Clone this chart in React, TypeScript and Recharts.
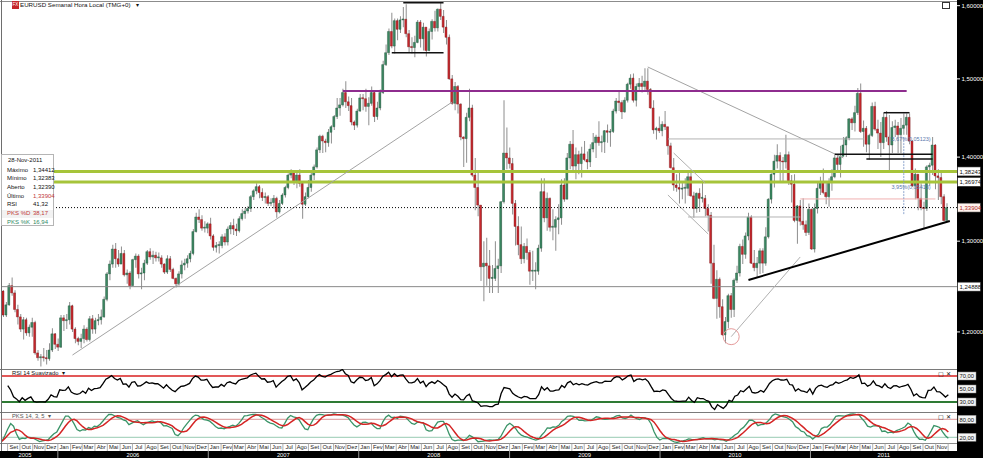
import React from 'react';
import { ComposedChart, Bar, Cell, Line, XAxis, YAxis, ReferenceLine, ReferenceDot } from 'recharts';

// ---------- DATA (weekly EUR/USD, week starting Monday 15-Aug-2005) ----------
const FIRST_WEEK_UTC = Date.UTC(2005, 7, 15);
const FIRST_OPEN = 1.2440;

const CLOSE = [
  // 2005
  1.2180, 1.2290, 1.2500, 1.2420, 1.2240, 1.2160, 1.2030, 1.2130, 1.1990, 1.2050, 1.2100, 1.1780, 1.1730, 1.1740, 1.1730, 1.1720, 1.1810, 1.1980, 1.1870, 1.1840,
  // 2006
  1.2150, 1.2120, 1.2130, 1.2280, 1.2030, 1.1930, 1.1900, 1.1930, 1.2030, 1.1920, 1.2140, 1.2030, 1.2120, 1.2130, 1.2160, 1.2350, 1.2630, 1.2740, 1.2910, 1.2800,
  1.2740, 1.2860, 1.2620, 1.2640, 1.2500, 1.2790, 1.2830, 1.2630, 1.2640, 1.2750, 1.2880, 1.2820, 1.2840, 1.2810, 1.2810, 1.2740, 1.2650, 1.2800, 1.2680, 1.2580,
  1.2520, 1.2630, 1.2730, 1.2750, 1.2800, 1.2860, 1.3110, 1.3280, 1.3250, 1.3150, 1.3150, 1.3200,
  // 2007
  1.3060, 1.2930, 1.2950, 1.2950, 1.3050, 1.2990, 1.3140, 1.3180, 1.3140, 1.3120, 1.3260, 1.3320, 1.3350, 1.3380, 1.3520, 1.3590, 1.3640, 1.3570, 1.3510, 1.3520,
  1.3440, 1.3450, 1.3500, 1.3340, 1.3440, 1.3540, 1.3630, 1.3780, 1.3820, 1.3700, 1.3780, 1.3680, 1.3430, 1.3520, 1.3630, 1.3780, 1.3880, 1.4090, 1.4260, 1.4200,
  1.4180, 1.4310, 1.4380, 1.4510, 1.4620, 1.4660, 1.4820, 1.4700, 1.4650, 1.4440, 1.4400, 1.4580, 1.4750,
  // 2008
  1.4740, 1.4640, 1.4680, 1.4820, 1.4510, 1.4620, 1.4820, 1.5190, 1.5350, 1.5640, 1.5440, 1.5790, 1.5670, 1.5800, 1.5810, 1.5610, 1.5430, 1.5420, 1.5490, 1.5770,
  1.5540, 1.5700, 1.5380, 1.5640, 1.5780, 1.5690, 1.5950, 1.5850, 1.5700, 1.5560, 1.5000, 1.4680, 1.4900, 1.4670, 1.4250, 1.4230, 1.4500, 1.4620, 1.3780, 1.3630,
  1.3420, 1.2710, 1.2750, 1.2720, 1.2580, 1.2580, 1.2690, 1.2720, 1.3460, 1.4050, 1.3990, 1.3920,
  // 2009
  1.3440, 1.3170, 1.2960, 1.2800, 1.2940, 1.2870, 1.2660, 1.2660, 1.2660, 1.2920, 1.3580, 1.3270, 1.3500, 1.3160, 1.3160, 1.3250, 1.3270, 1.3660, 1.3490, 1.3990,
  1.4160, 1.3890, 1.4030, 1.3920, 1.4040, 1.3970, 1.3940, 1.4100, 1.4180, 1.4250, 1.4180, 1.4190, 1.4330, 1.4310, 1.4320, 1.4580, 1.4710, 1.4690, 1.4570, 1.4720,
  1.4930, 1.5010, 1.4720, 1.4900, 1.4940, 1.4900, 1.4970, 1.4860, 1.4620, 1.4340, 1.4360, 1.4330,
  // 2010
  1.4410, 1.4380, 1.4140, 1.3870, 1.3660, 1.3630, 1.3610, 1.3620, 1.3620, 1.3760, 1.3530, 1.3380, 1.3560, 1.3500, 1.3500, 1.3380, 1.3300, 1.2750, 1.2360, 1.2570,
  1.2270, 1.1970, 1.2110, 1.2390, 1.2240, 1.2560, 1.2640, 1.2940, 1.2850, 1.3060, 1.3280, 1.2750, 1.2700, 1.2750, 1.2890, 1.2750, 1.3050, 1.3490, 1.3790, 1.3950,
  1.4020, 1.3950, 1.3940, 1.4030, 1.3710, 1.3670, 1.3240, 1.3410, 1.3230, 1.3190, 1.3100, 1.3370,
  // 2011
  1.2910, 1.3380, 1.3620, 1.3690, 1.3570, 1.3520, 1.3700, 1.3760, 1.3990, 1.3910, 1.4010, 1.4150, 1.4240, 1.4480, 1.4430, 1.4560, 1.4810, 1.4320, 1.4360, 1.4160,
  1.4270, 1.4640, 1.4350, 1.4300, 1.4180, 1.4500, 1.4250, 1.4150, 1.4370, 1.4390, 1.4280, 1.4360, 1.4400, 1.4500, 1.4200, 1.3650, 1.3790, 1.3500, 1.3390, 1.3380,
  1.3880, 1.3900, 1.4150, 1.3770, 1.3750, 1.3520, 1.3239, 1.33904,
];

const HIGH = [
  1.2450, 1.2320, 1.2530, 1.2590, 1.2450, 1.2290, 1.2190, 1.2160, 1.2150, 1.2080, 1.2150, 1.2120, 1.1810, 1.1770, 1.1830, 1.1810, 1.1880, 1.2040, 1.1990, 1.1930,
  1.2180, 1.2180, 1.2190, 1.2320, 1.2290, 1.2050, 1.1950, 1.1980, 1.2070, 1.2050, 1.2170, 1.2180, 1.2150, 1.2190, 1.2240, 1.2380, 1.2650, 1.2780, 1.2960, 1.2980,
  1.2900, 1.2940, 1.2900, 1.2680, 1.2660, 1.2800, 1.2860, 1.2850, 1.2700, 1.2790, 1.2900, 1.2920, 1.2890, 1.2880, 1.2870, 1.2840, 1.2750, 1.2840, 1.2830, 1.2700,
  1.2590, 1.2660, 1.2780, 1.2800, 1.2840, 1.2890, 1.3140, 1.3330, 1.3370, 1.3300, 1.3230, 1.3220,
  1.3270, 1.3080, 1.2990, 1.3000, 1.3080, 1.3090, 1.3170, 1.3220, 1.3260, 1.3200, 1.3290, 1.3370, 1.3390, 1.3410, 1.3540, 1.3610, 1.3680, 1.3660, 1.3620, 1.3570,
  1.3540, 1.3500, 1.3540, 1.3520, 1.3480, 1.3560, 1.3650, 1.3800, 1.3850, 1.3830, 1.3810, 1.3850, 1.3700, 1.3570, 1.3720, 1.3820, 1.3910, 1.4120, 1.4280, 1.4280,
  1.4230, 1.4350, 1.4400, 1.4530, 1.4750, 1.4750, 1.4870, 1.4970, 1.4770, 1.4750, 1.4460, 1.4610, 1.4800,
  1.4800, 1.4870, 1.4760, 1.4900, 1.4830, 1.4700, 1.4860, 1.5240, 1.5460, 1.5680, 1.5900, 1.5820, 1.5820, 1.5850, 1.5980, 1.6020, 1.5660, 1.5560, 1.5580, 1.5800,
  1.5800, 1.5760, 1.5700, 1.5680, 1.5810, 1.5930, 1.5960, 1.6040, 1.5940, 1.5800, 1.5600, 1.5050, 1.4960, 1.4920, 1.4680, 1.4260, 1.4560, 1.4870, 1.4660, 1.3990,
  1.3810, 1.3420, 1.3000, 1.3040, 1.2900, 1.2730, 1.3000, 1.2800, 1.3470, 1.4720, 1.4370, 1.4120,
  1.3990, 1.3480, 1.3290, 1.3170, 1.2980, 1.3030, 1.2900, 1.2890, 1.2760, 1.2960, 1.3740, 1.3740, 1.3570, 1.3510, 1.3370, 1.3290, 1.3430, 1.3730, 1.3740, 1.4050,
  1.4200, 1.4340, 1.4120, 1.4080, 1.4130, 1.4200, 1.4070, 1.4160, 1.4300, 1.4280, 1.4450, 1.4270, 1.4340, 1.4410, 1.4350, 1.4610, 1.4750, 1.4840, 1.4720, 1.4760,
  1.4950, 1.5060, 1.5070, 1.4940, 1.5010, 1.5040, 1.5140, 1.5140, 1.4880, 1.4720, 1.4380, 1.4510,
  1.4450, 1.4580, 1.4380, 1.4180, 1.3990, 1.3790, 1.3820, 1.3690, 1.3740, 1.3820, 1.3830, 1.3580, 1.3570, 1.3620, 1.3690, 1.3540, 1.3430, 1.3340, 1.2960, 1.2670,
  1.2590, 1.2350, 1.2160, 1.2410, 1.2420, 1.2580, 1.2720, 1.2970, 1.3020, 1.3100, 1.3330, 1.3300, 1.2900, 1.2820, 1.2920, 1.2920, 1.3160, 1.3500, 1.3800, 1.4030,
  1.4160, 1.4060, 1.4000, 1.4280, 1.4070, 1.3780, 1.3790, 1.3420, 1.3480, 1.3500, 1.3240, 1.3440,
  1.3380, 1.3440, 1.3690, 1.3760, 1.3860, 1.3700, 1.3740, 1.3850, 1.4030, 1.4040, 1.4140, 1.4250, 1.4260, 1.4490, 1.4500, 1.4650, 1.4880, 1.4940, 1.4460, 1.4390,
  1.4290, 1.4690, 1.4700, 1.4470, 1.4440, 1.4560, 1.4580, 1.4280, 1.4450, 1.4470, 1.4440, 1.4490, 1.4550, 1.4550, 1.4550, 1.4210, 1.3860, 1.3790, 1.3680, 1.3460,
  1.3900, 1.3930, 1.4250, 1.4160, 1.3850, 1.3820, 1.3550, 1.34412,
];

const LOW = [
  1.2160, 1.2160, 1.2280, 1.2390, 1.2210, 1.2080, 1.2000, 1.1920, 1.1960, 1.1950, 1.1950, 1.1760, 1.1700, 1.1640, 1.1690, 1.1660, 1.1700, 1.1790, 1.1820, 1.1800,
  1.1830, 1.2010, 1.2030, 1.2080, 1.2000, 1.1880, 1.1860, 1.1830, 1.1880, 1.1900, 1.1900, 1.1980, 1.1980, 1.2070, 1.2080, 1.2150, 1.2330, 1.2560, 1.2700, 1.2700,
  1.2710, 1.2740, 1.2600, 1.2520, 1.2460, 1.2500, 1.2700, 1.2580, 1.2460, 1.2560, 1.2730, 1.2790, 1.2740, 1.2770, 1.2770, 1.2700, 1.2630, 1.2630, 1.2650, 1.2570,
  1.2480, 1.2500, 1.2580, 1.2670, 1.2700, 1.2760, 1.2840, 1.3100, 1.3210, 1.3120, 1.3100, 1.3090,
  1.3020, 1.2890, 1.2870, 1.2860, 1.2920, 1.2950, 1.2950, 1.3080, 1.3070, 1.3060, 1.3100, 1.3240, 1.3260, 1.3320, 1.3340, 1.3480, 1.3550, 1.3500, 1.3470, 1.3440,
  1.3410, 1.3410, 1.3380, 1.3270, 1.3320, 1.3420, 1.3510, 1.3610, 1.3740, 1.3660, 1.3620, 1.3640, 1.3260, 1.3410, 1.3500, 1.3580, 1.3720, 1.3860, 1.4050, 1.4050,
  1.4060, 1.4130, 1.4170, 1.4340, 1.4480, 1.4520, 1.4640, 1.4620, 1.4580, 1.4400, 1.4340, 1.4370, 1.4570,
  1.4590, 1.4570, 1.4400, 1.4650, 1.4440, 1.4470, 1.4590, 1.4800, 1.5170, 1.5320, 1.5410, 1.5340, 1.5520, 1.5620, 1.5700, 1.5560, 1.5360, 1.5340, 1.5290, 1.5480,
  1.5420, 1.5380, 1.5300, 1.5370, 1.5530, 1.5640, 1.5640, 1.5800, 1.5620, 1.5460, 1.4990, 1.4660, 1.4590, 1.4550, 1.4210, 1.3880, 1.3930, 1.4450, 1.3760, 1.3360,
  1.3290, 1.2550, 1.2330, 1.2500, 1.2420, 1.2420, 1.2550, 1.2420, 1.2640, 1.3440, 1.3850, 1.3860,
  1.3310, 1.2950, 1.2840, 1.2740, 1.2750, 1.2790, 1.2510, 1.2550, 1.2460, 1.2620, 1.2880, 1.3220, 1.3120, 1.3110, 1.3010, 1.2890, 1.3080, 1.3190, 1.3460, 1.3490,
  1.3850, 1.3840, 1.3730, 1.3790, 1.3750, 1.3950, 1.3850, 1.3880, 1.4060, 1.3990, 1.4140, 1.4060, 1.4050, 1.4180, 1.4130, 1.4300, 1.4550, 1.4580, 1.4480, 1.4560,
  1.4690, 1.4870, 1.4690, 1.4640, 1.4830, 1.4820, 1.4830, 1.4790, 1.4610, 1.4290, 1.4220, 1.4300,
  1.4260, 1.4340, 1.4030, 1.3860, 1.3590, 1.3580, 1.3440, 1.3490, 1.3440, 1.3530, 1.3520, 1.3270, 1.3330, 1.3340, 1.3450, 1.3290, 1.3110, 1.2520, 1.2350, 1.2140,
  1.2150, 1.1960, 1.1880, 1.2040, 1.2150, 1.2160, 1.2530, 1.2600, 1.2740, 1.2800, 1.3010, 1.2740, 1.2660, 1.2590, 1.2630, 1.2640, 1.2720, 1.3030, 1.3440, 1.3630,
  1.3860, 1.3700, 1.3690, 1.3860, 1.3660, 1.3450, 1.3220, 1.2970, 1.3180, 1.3130, 1.3060, 1.3070,
  1.2900, 1.2870, 1.3320, 1.3540, 1.3550, 1.3430, 1.3400, 1.3590, 1.3740, 1.3830, 1.3750, 1.4010, 1.4000, 1.4210, 1.4340, 1.4320, 1.4530, 1.4300, 1.4130, 1.4060,
  1.3970, 1.4250, 1.4330, 1.4100, 1.4000, 1.4100, 1.4190, 1.3840, 1.4050, 1.4250, 1.4050, 1.4050, 1.4280, 1.4280, 1.4160, 1.3640, 1.3490, 1.3360, 1.3360, 1.3150,
  1.3350, 1.3650, 1.3780, 1.3610, 1.3480, 1.3430, 1.3230, 1.32383,
];

const EMPTY_SLOTS = 3;
const MONTHS = ['Jan', 'Fev', 'Mar', 'Abr', 'Mai', 'Jun', 'Jul', 'Ago', 'Set', 'Out', 'Nov', 'Dez'];
const PRICE_TICKS = [1.2, 1.3, 1.4, 1.5, 1.6];
const RSI_TICKS = [30, 50, 70];
const STOCH_TICKS = [20, 80];
const LEVEL_A = 1.38243;
const LEVEL_B = 1.36974;
const LAST_PRICE = 1.33904;
const SUPPORT = 1.24888;
const INFO_ROWS = [
  ['Máximo', '1,34412'],
  ['Mínimo', '1,32383'],
  ['Aberto', '1,32390'],
  ['Último', '1,33904'],
  ['RSI', '41,32'],
  ['PKS %D', '38,17'],
  ['PKS %K', '16,94'],
];
const INFO_DATE = '28-Nov-2011';
const NOTE_A = '3,67%(0,05123)';
const NOTE_B = '3,95%(0,05413)';

// annotation drawings (week index, price)
const SEGMENTS = [
  { a: [24, 1.1758], b: [156, 1.4697], c: '#a3a3a3', w: 1, dash: '' },
  { a: [224, 1.5158], b: [292, 1.3990], c: '#a3a3a3', w: 1, dash: '' },
  { a: [231, 1.4226], b: [299, 1.4226], c: '#b3b3b3', w: 1, dash: '' },
  { a: [238, 1.3280], b: [277, 1.3280], c: '#b3b3b3', w: 1, dash: '' },
  { a: [277, 1.3493], b: [324, 1.3493], c: '#f0b0b0', w: 1, dash: '' },
  { a: [233, 1.4051], b: [244, 1.3684], c: '#b0b0b0', w: 1, dash: '' },
  { a: [231, 1.3540], b: [245, 1.3082], c: '#b0b0b0', w: 1, dash: '' },
  { a: [253, 1.1950], b: [277, 1.2820], c: '#b0b0b0', w: 1, dash: '' },
  { a: [308, 1.4530], b: [308, 1.3842], c: '#a0a0a0', w: 1, dash: '' },
  { a: [313, 1.4249], b: [313, 1.3303], c: '#8fa6cf', w: 1, dash: '2 1' },
  { a: [118, 1.4840], b: [314, 1.4840], c: '#8e2c8e', w: 2, dash: '' },
  { a: [139, 1.6042], b: [153, 1.6042], c: '#111', w: 1.5, dash: '' },
  { a: [135, 1.5350], b: [153, 1.5350], c: '#111', w: 1.5, dash: '' },
  { a: [306, 1.4559], b: [315, 1.4559], c: '#111', w: 1.5, dash: '' },
  { a: [289, 1.4035], b: [323, 1.4035], c: '#111', w: 1.5, dash: '' },
  { a: [300, 1.3977], b: [323, 1.3977], c: '#111', w: 1.5, dash: '' },
  { a: [259, 1.2562], b: [329, 1.3233], c: '#000', w: 2, dash: '' },
];

// ---------- derived rows ----------
const N = CLOSE.length;
const SLOTS = N + EMPTY_SLOTS;

function rsiSeries(cl: number[], prev: number, n: number) {
  const out: (number | null)[] = [];
  let ag = 0, al = 0;
  cl.forEach((c, i) => {
    const p = i === 0 ? prev : cl[i - 1];
    const ch = c - p;
    const m = Math.min(i + 1, n);
    ag = (ag * (m - 1) + Math.max(ch, 0)) / m;
    al = (al * (m - 1) + Math.max(-ch, 0)) / m;
    out.push(i < 2 ? null : al === 0 ? 100 : 100 - 100 / (1 + ag / al));
  });
  return out;
}
function avg(a: number[]) { return a.reduce((s, v) => s + v, 0) / a.length; }
function stochSeries(cl: number[], hi: number[], lo: number[], n: number, slow: number, dp: number) {
  const raw = cl.map((c, i) => {
    const s = Math.max(0, i - n + 1);
    const hh = Math.max(...hi.slice(s, i + 1));
    const ll = Math.min(...lo.slice(s, i + 1));
    return hh === ll ? 50 : ((c - ll) / (hh - ll)) * 100;
  });
  const k = raw.map((_, i) => avg(raw.slice(Math.max(0, i - slow + 1), i + 1)));
  const d = k.map((_, i) => avg(k.slice(Math.max(0, i - dp + 1), i + 1)));
  return { k, d };
}
const RSI = rsiSeries(CLOSE, FIRST_OPEN, 14);
const ST = stochSeries(CLOSE, HIGH, LOW, 14, 3, 5);

const rows = Array.from({ length: SLOTS }, (_, i) => {
  if (i >= N) return { i } as any;
  const o = i === 0 ? FIRST_OPEN : CLOSE[i - 1];
  const c = CLOSE[i];
  return {
    i, o, c,
    wick: [LOW[i], HIGH[i]],
    body: [Math.min(o, c), Math.max(o, c)],
    up: c >= o,
    rsi: RSI[i],
    k: ST.k[i],
    d: ST.d[i],
  };
});

const weekDate = (i: number) => new Date(FIRST_WEEK_UTC + i * 7 * 86400000);
const DAY = 86400000;
const monthTicks: number[] = [];
const monthInfo: Record<number, { frac: number; label: string; last: boolean }> = {};
const yearTicks: number[] = [];
const yearInfo: Record<number, { frac: number; label: string }> = {};
for (let i = 0; i < SLOTS; i++) {
  const d = weekDate(i);
  for (let k = 0; k < 7; k++) {
    const dd = new Date(d.getTime() + k * DAY);
    if (dd.getUTCDate() === 1) {
      monthTicks.push(i);
      monthInfo[i] = { frac: k / 7, label: MONTHS[dd.getUTCMonth()], last: i >= N - 1 };
      if (dd.getUTCMonth() === 0) {
        yearTicks.push(i);
        yearInfo[i] = { frac: k / 7, label: String(dd.getUTCFullYear()) };
      }
    }
  }
}

// ---------- layout ----------
const W = 983;
const RIGHT_AXIS = 26;
const PLOT_L = 2;
const PLOT_W = W - PLOT_L - RIGHT_AXIS;
const BAND = PLOT_W / SLOTS;
const FONT = '"Liberation Sans", Arial, sans-serif';
const UP = '#3c8a63';
const UP_EDGE = '#1f4f38';
const DOWN = '#c8282d';
const DOWN_EDGE = '#7a1417';
const WICK = '#8e8e8e';

const fmt = (v: number, d: number) => v.toFixed(d).replace('.', ',');

const PriceTick = (p: any) => {
  const { x, y, payload } = p;
  return (
    <g>
      <line x1={x} x2={x + 3} y1={y} y2={y} stroke="#fff" strokeWidth={1} />
      <text x={x + 4.5} y={y + 2.2} fill="#fff" fontSize={6} fontFamily={FONT}>{fmt(payload.value, 5)}</text>
    </g>
  );
};
const BoxTick = (p: any) => {
  const { x, y, payload } = p;
  return (
    <g>
      <rect x={x + 1} y={y - 4} width={18} height={8} fill="#f4f4f4" stroke="#888" strokeWidth={0.5} />
      <text x={x + 2.5} y={y + 2.2} fill="#111" fontSize={5.8} fontFamily={FONT}>{fmt(payload.value, 2)}</text>
    </g>
  );
};
const boxLabel = (text: string, color: string, bg: string) => (props: any) => {
  const vb = props.viewBox || {};
  const x = (vb.x ?? 0) + (vb.width ?? 0) + 0.5;
  const y = vb.y ?? 0;
  return (
    <g>
      <rect x={x} y={y - 4.5} width={23} height={9} fill={bg} stroke="#222" strokeWidth={0.6} />
      <text x={x + 2} y={y + 2.3} fill={color} fontSize={6} fontFamily={FONT}>{text}</text>
    </g>
  );
};

const MonthTick = (p: any) => {
  const { x, y, payload } = p;
  const info = monthInfo[payload.value];
  if (!info) return <g />;
  const xb = x - BAND / 2 + info.frac * BAND;
  const cell = (30.44 / 7) * BAND;
  return (
    <g>
      <line x1={xb} x2={xb} y1={y} y2={y + 8} stroke="#9a9a9a" strokeWidth={0.8} />
      {!info.last && (
        <text x={xb + cell / 2} y={y + 6.2} textAnchor="middle" fill="#222" fontSize={5.8} fontFamily={FONT}>{info.label}</text>
      )}
    </g>
  );
};
const YearTick = (p: any) => {
  const { x, y, payload } = p;
  const info = yearInfo[payload.value];
  if (!info) return <g />;
  const xb = x - BAND / 2 + info.frac * BAND;
  const yearW = (365.25 / 7) * BAND;
  const isFirst = payload.value === yearTicks[0];
  const prevCenter = (PLOT_L + xb) / 2;
  const isLast = payload.value === yearTicks[yearTicks.length - 1];
  const center = isLast ? (xb + PLOT_L + PLOT_W) / 2 : xb + yearW / 2;
  return (
    <g>
      <line x1={xb} x2={xb} y1={y} y2={y + 7} stroke="#bbb" strokeWidth={0.8} />
      {isFirst && (
        <text x={prevCenter - 5} y={y + 5.6} textAnchor="middle" fill="#fff" fontSize={5.8} fontFamily={FONT}>{String(Number(info.label) - 1)}</text>
      )}
      <text x={center} y={y + 5.6} textAnchor="middle" fill="#fff" fontSize={5.8} fontFamily={FONT}>{info.label}</text>
    </g>
  );
};

const abs = (l: number, t: number, extra: React.CSSProperties = {}): React.CSSProperties => ({ position: 'absolute', left: l, top: t, ...extra });

export default function App() {
  const textStyle: React.CSSProperties = { fontFamily: FONT, fontSize: 6, color: '#111', whiteSpace: 'nowrap', lineHeight: '7px' };
  return (
    <div style={{ position: 'absolute', left: 0, top: 0, width: W, height: 458, background: '#fff', overflow: 'hidden' }}>
      {/* backgrounds */}
      <div style={abs(957, 0, { width: 26, height: 458, background: '#000' })} />
      <div style={abs(0, 451, { width: W, height: 7, background: '#000' })} />
      <div style={abs(0, 443, { width: 957, height: 0, borderTop: '1px solid #8c8c8c' })} />
      <div style={abs(0, 1, { width: 957, height: 0, borderTop: '1px solid #8c8c8c' })} />
      <div style={abs(0, 368.5, { width: 957, height: 0, borderTop: '1px solid #7a7a7a' })} />
      <div style={abs(0, 411.5, { width: 957, height: 0, borderTop: '1px solid #7a7a7a' })} />

      {/* main price chart */}
      <div style={abs(0, 0)}>
        <ComposedChart width={W} height={368} data={rows} margin={{ top: 2, right: 0, bottom: 1, left: PLOT_L }}>
          <XAxis xAxisId="w" dataKey="i" type="category" hide />
          <XAxis xAxisId="b" dataKey="i" type="category" hide />
          <YAxis orientation="right" width={RIGHT_AXIS} scale="log" domain={[1.16346, 1.6052]} allowDataOverflow
            ticks={PRICE_TICKS} tick={PriceTick} tickLine={false} axisLine={false} tickSize={0} tickMargin={0} interval={0} />
          <ReferenceLine xAxisId="w" y={SUPPORT} stroke="#8a8a8a" strokeWidth={1} label={boxLabel('1,24888', '#111', '#fff')} />
          <ReferenceLine xAxisId="w" y={LEVEL_A} stroke="#a6c43a" strokeWidth={3} label={boxLabel('1,38243', '#111', '#fff')} />
          <ReferenceLine xAxisId="w" y={LEVEL_B} stroke="#a6c43a" strokeWidth={3} label={boxLabel('1,36974', '#111', '#fff')} />
          {SEGMENTS.map((s, k) => (
            <ReferenceLine key={k} xAxisId="w" segment={[{ x: s.a[0], y: s.a[1] }, { x: s.b[0], y: s.b[1] }]}
              stroke={s.c} strokeWidth={s.w} strokeDasharray={s.dash || undefined} ifOverflow="visible" />
          ))}
          <ReferenceDot xAxisId="w" x={253} y={1.1950} r={8} fill="none" stroke="#e59a9a" strokeWidth={1} />
          <ReferenceDot xAxisId="w" x={307} y={1.4226} r={0.01} fill="none" stroke="none"
            label={{ value: NOTE_A, position: 'right', fontSize: 5.5, fill: '#5a78ad', fontFamily: FONT }} />
          <ReferenceDot xAxisId="w" x={307} y={1.3640} r={0.01} fill="none" stroke="none"
            label={{ value: NOTE_B, position: 'right', fontSize: 5.5, fill: '#5a78ad', fontFamily: FONT }} />
          <Bar xAxisId="w" dataKey="wick" barSize={1} isAnimationActive={false}>
            {rows.map((r: any, k: number) => <Cell key={k} fill={WICK} />)}
          </Bar>
          <Bar xAxisId="b" dataKey="body" barSize={2} minPointSize={1} isAnimationActive={false}>
            {rows.map((r: any, k: number) => (
              <Cell key={k} fill={r.up ? UP : DOWN} stroke={r.up ? UP_EDGE : DOWN_EDGE} strokeWidth={0.4} />
            ))}
          </Bar>
          <ReferenceLine xAxisId="w" y={LAST_PRICE} stroke="#000" strokeWidth={1} strokeDasharray="1 2"
            label={boxLabel('1,33904', '#b02a2a', '#fff3ee')} />
        </ComposedChart>
      </div>

      {/* RSI */}
      <div style={abs(0, 368)}>
        <ComposedChart width={W} height={44} data={rows} margin={{ top: 1, right: 0, bottom: 1, left: PLOT_L }}>
          <XAxis dataKey="i" type="category" hide />
          <YAxis orientation="right" width={RIGHT_AXIS} domain={[16.15, 80.77]} allowDataOverflow ticks={RSI_TICKS}
            tick={BoxTick} tickLine={false} axisLine={false} tickSize={0} tickMargin={0} interval={0} />
          <ReferenceLine y={70} stroke="#d82020" strokeWidth={1.6} />
          <ReferenceLine y={30} stroke="#2e7a34" strokeWidth={2.2} />
          <Line dataKey="rsi" stroke="#000" strokeWidth={1.3} dot={false} isAnimationActive={false} connectNulls={false} />
        </ComposedChart>
      </div>

      {/* Stochastic + time axis */}
      <div style={abs(0, 412)}>
        <ComposedChart width={W} height={46} data={rows} margin={{ top: 1, right: 0, bottom: 0, left: PLOT_L }}>
          <XAxis xAxisId="m" dataKey="i" type="category" ticks={monthTicks} interval={0} height={8}
            axisLine={false} tickLine={false} tickSize={0} tickMargin={0} tick={MonthTick} />
          <XAxis xAxisId="y" dataKey="i" type="category" ticks={yearTicks} interval={0} height={7}
            axisLine={false} tickLine={false} tickSize={0} tickMargin={0} tick={YearTick} />
          <YAxis orientation="right" width={RIGHT_AXIS} domain={[1, 101]} allowDataOverflow ticks={STOCH_TICKS}
            tick={BoxTick} tickLine={false} axisLine={false} tickSize={0} tickMargin={0} interval={0} />
          <ReferenceLine xAxisId="m" y={80} stroke="#d27a7a" strokeWidth={0.8} />
          <ReferenceLine xAxisId="m" y={20} stroke="#7cbca0" strokeWidth={0.8} />
          <Line xAxisId="m" dataKey="k" stroke="#3a9468" strokeWidth={1.3} dot={false} isAnimationActive={false} />
          <Line xAxisId="m" dataKey="d" stroke="#d42424" strokeWidth={1.5} dot={false} isAnimationActive={false} />
        </ComposedChart>
      </div>

      {/* left border */}
      <div style={abs(1, 0, { width: 0, height: 451, borderLeft: '1px solid #6e6e6e' })} />

      {/* header */}
      <div style={abs(12, 1, { width: 7, height: 8, background: '#c4262b', color: '#fff', fontFamily: FONT, fontSize: 4.5, lineHeight: '8px', textAlign: 'center' })}>FX</div>
      <div style={abs(20, 1, { ...textStyle, fontSize: 6.2, lineHeight: '8px' })}>EURUSD Semanal Hora Local (TMG+0) &nbsp;&nbsp;▾</div>
      <div style={abs(942, 2, { width: 6, height: 5, border: '1px solid #333', background: '#fff' })} />

      {/* panel captions */}
      <div style={abs(12, 370, { ...textStyle, fontSize: 5.8 })}>RSI 14 Suavizado &nbsp;▾</div>
      <div style={abs(12, 413, { ...textStyle, fontSize: 5.8, color: '#555' })}>PKS 14, 3, 5 &nbsp;▾</div>
      <div style={abs(938, 371, { ...textStyle, fontSize: 6 })}>▢ ✕</div>
      <div style={abs(938, 414, { ...textStyle, fontSize: 6 })}>▢ ✕</div>

      {/* info box */}
      <div style={abs(1, 154, { width: 53, height: 72, background: '#fff', border: '1px solid #b5b5b5', boxSizing: 'border-box' })}>
        <div style={abs(6, 2, textStyle)}>{INFO_DATE}</div>
        {INFO_ROWS.map((r, k) => {
          const color = k === 5 ? '#c0393b' : k === 6 ? '#2f8a66' : '#111';
          const vColor = k === 3 ? '#c0393b' : color;
          return (
            <div key={k} style={abs(0, 11 + k * 8.7, { width: 51, height: 8, background: k === 5 ? '#f2f2f2' : 'transparent' })}>
              <div style={abs(5, 0.5, { ...textStyle, color })}>{r[0]}</div>
              <div style={abs(31, 0.5, { ...textStyle, color: vColor })}>{r[1]}</div>
            </div>
          );
        })}
      </div>
    </div>
  );
}
